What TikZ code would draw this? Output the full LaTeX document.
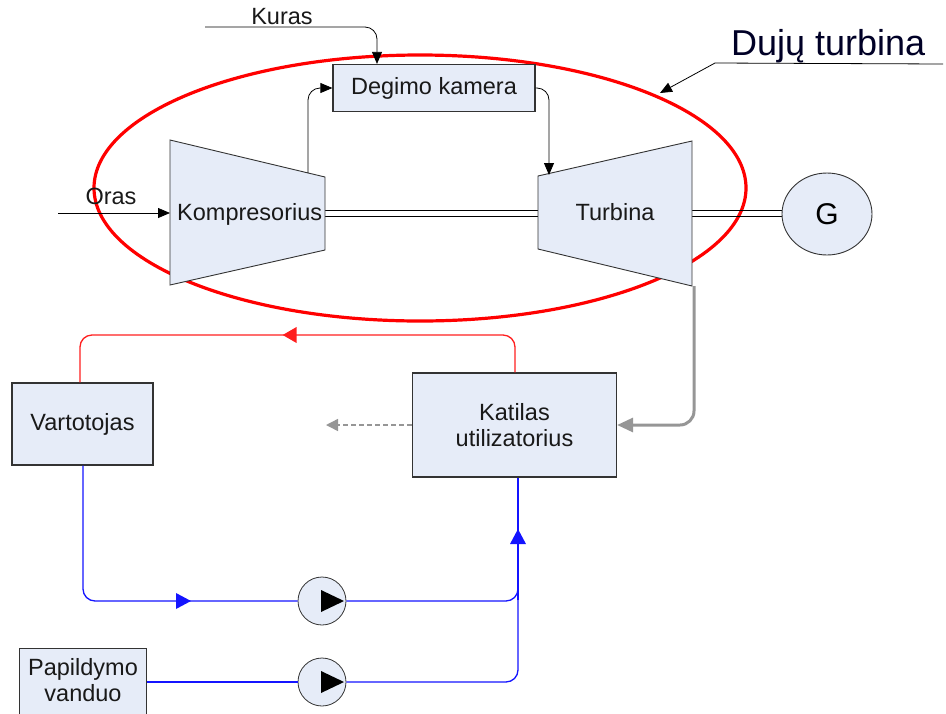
\documentclass[tikz,border=0pt]{standalone}
\usepackage{fontspec}
\setmainfont{Liberation Sans}
\usetikzlibrary{arrows.meta,shapes.geometric}
\definecolor{boxfill}{RGB}{230,236,248}
\definecolor{redline}{RGB}{255,30,30}
\definecolor{blueline}{RGB}{20,20,255}
\definecolor{greyline}{RGB}{150,150,150}
\begin{document}
\begin{tikzpicture}[x=1pt,y=-1pt,
  lbl/.style={inner sep=0pt, font=\fontsize{23.5}{25}\selectfont, text=black!90},
  boxn/.style={draw=black!80, fill=boxfill, line width=1.2pt, inner sep=0pt, text=black!90},
  blk/.style={draw=black, line width=0.8pt},
  tip/.style={-{Triangle[length=12pt,width=10pt]}},
  pumpn/.style={circle, draw=black!80, fill=boxfill, line width=0.8pt, minimum size=48pt, inner sep=0pt},
  rnd/.style={rounded corners=12pt}]
\useasboundingbox (0,0) rectangle (946,713);
% red ellipse
\draw[red, line width=3.2pt] (420,188) ellipse [x radius=326, y radius=133];
% coordinates of machines
\coordinate (c1) at (170,140); \coordinate (c2) at (325,177);
\coordinate (c3) at (325,250); \coordinate (c4) at (170,285);
\coordinate (t1) at (538,176); \coordinate (t2) at (692,141);
\coordinate (t3) at (692,286); \coordinate (t4) at (538,249);
% shafts
\draw[blk] (320,210) -- (540,210); \draw[blk] (320,216) -- (540,216);
\draw[blk] (690,210) -- (784,210); \draw[blk] (690,216) -- (784,216);
% compressor and turbine
\draw[draw=black!80, fill=boxfill, line width=0.9pt] (c1) -- (c2) -- (c3) -- (c4) -- cycle;
\draw[draw=black!80, fill=boxfill, line width=0.9pt] (t1) -- (t2) -- (t3) -- (t4) -- cycle;
\node[lbl, anchor=west] (komp) at (177,214) {Kompresorius};
\node[lbl] (turb) at (615,212) {Turbina};
% generator
\node[ellipse, draw=black!80, fill=boxfill, line width=0.9pt, minimum width=90pt, minimum height=82pt, inner sep=0pt, font=\fontsize{30}{32}\selectfont] (gen) at (827,214) {G};
% combustion chamber
\node[boxn, minimum width=202pt, minimum height=47pt, font=\fontsize{23.5}{25}\selectfont] (deg) at (434,88) {Degimo kamera};
% air
\coordinate (orasS) at (58,213);
\draw[blk, tip] (orasS) -- (170,213);
\node[lbl] (oras) at (111,196) {Oras};
% fuel
\coordinate (kurS) at (205,27);
\node[lbl] (kuras) at (282,17) {Kuras};
\draw[blk, tip, rnd] (kurS) -- (377,27) -- (deg.north -| 377,0);
% compressor to chamber
\draw[blk, tip, rnd] (308,173) -- (308,88) -- (deg.west);
% chamber to turbine
\draw[blk, tip, rnd] (deg.east) -- (549,88) -- (549,175);
% label Dujų turbina
\node[inner sep=0pt, font=\fontsize{36}{38}\selectfont, anchor=base west, text=black!85!blue] (dt) at (731,55) {Dujų turbina};
\coordinate (dtL) at (715,63);
\coordinate (dtR) at (943,64);
\draw[blk] (dtR) -- (dtL);
\draw[blk, tip] (dtL) -- (660,93);
% lower boxes
\node[boxn, minimum width=141pt, minimum height=82pt, font=\fontsize{23.5}{25}\selectfont] (vart) at (82.5,424) {Vartotojas};
\node[boxn, minimum width=204pt, minimum height=104pt, align=center, font=\fontsize{23.5}{25.5}\selectfont] (kat) at (514.5,425) {Katilas\\utilizatorius};
\node[boxn, minimum width=127pt, minimum height=75pt, anchor=north west] (pap) at (19,648) {};
\node[lbl, align=center, font=\fontsize{23.5}{26}\selectfont] (paptxt) at (83,680) {Papildymo\\vanduo};
% exhaust grey
\draw[greyline, line width=3pt, rounded corners=14pt, -{Triangle[length=16pt,width=14pt]}] (694,286) -- (694,425) -- (kat.east |- 0,425);
\coordinate (exh) at (326,425);
\draw[greyline, line width=1.4pt, dash pattern=on 5pt off 3pt, -{Triangle[length=12pt,width=12pt]}] (kat.west |- 0,425) -- (exh);
% red hot water loop
\draw[redline, line width=1.3pt, rnd] (kat.north -| 515,0) -- (515,335) -- (80,335) -- (vart.north -| 80,0);
\node[fill=redline, isosceles triangle, shape border rotate=180, minimum height=14pt, minimum width=12pt, inner sep=0pt, isosceles triangle apex angle=60] (rarr) at (292,335) {};
% pumps
\node[pumpn] (p1) at (322,601) {};
\node[pumpn] (p2) at (322,682) {};
\fill (p1.center) ++(-1,-11) -- ++(0,22) -- ++(23,-11) -- cycle;
\fill (p2.center) ++(-1,-11) -- ++(0,22) -- ++(23,-11) -- cycle;
% blue return lines
\draw[blueline, line width=1.3pt, rnd] (vart.south -| 83,0) -- (83,601) -- (p1.west);
\draw[blueline, line width=1.3pt, rnd] (p1.east) -- (518,601) -- (518,590);
\draw[blueline, line width=1.3pt] (pap.east |- 0,682) -- (p2.west);
\draw[blueline, line width=1.3pt, rnd] (p2.east) -- (518,682) -- (518,600);
\draw[blueline, line width=1.3pt] (518,600) -- (kat.south -| 518,0);
\fill[blueline] (183,601) ++(8,0) -- ++(-15,-8) -- ++(0,16) -- cycle;
\fill[blueline] (518,537) ++(0,-8) -- ++(-8,15) -- ++(16,0) -- cycle;
\end{tikzpicture}
\end{document}
